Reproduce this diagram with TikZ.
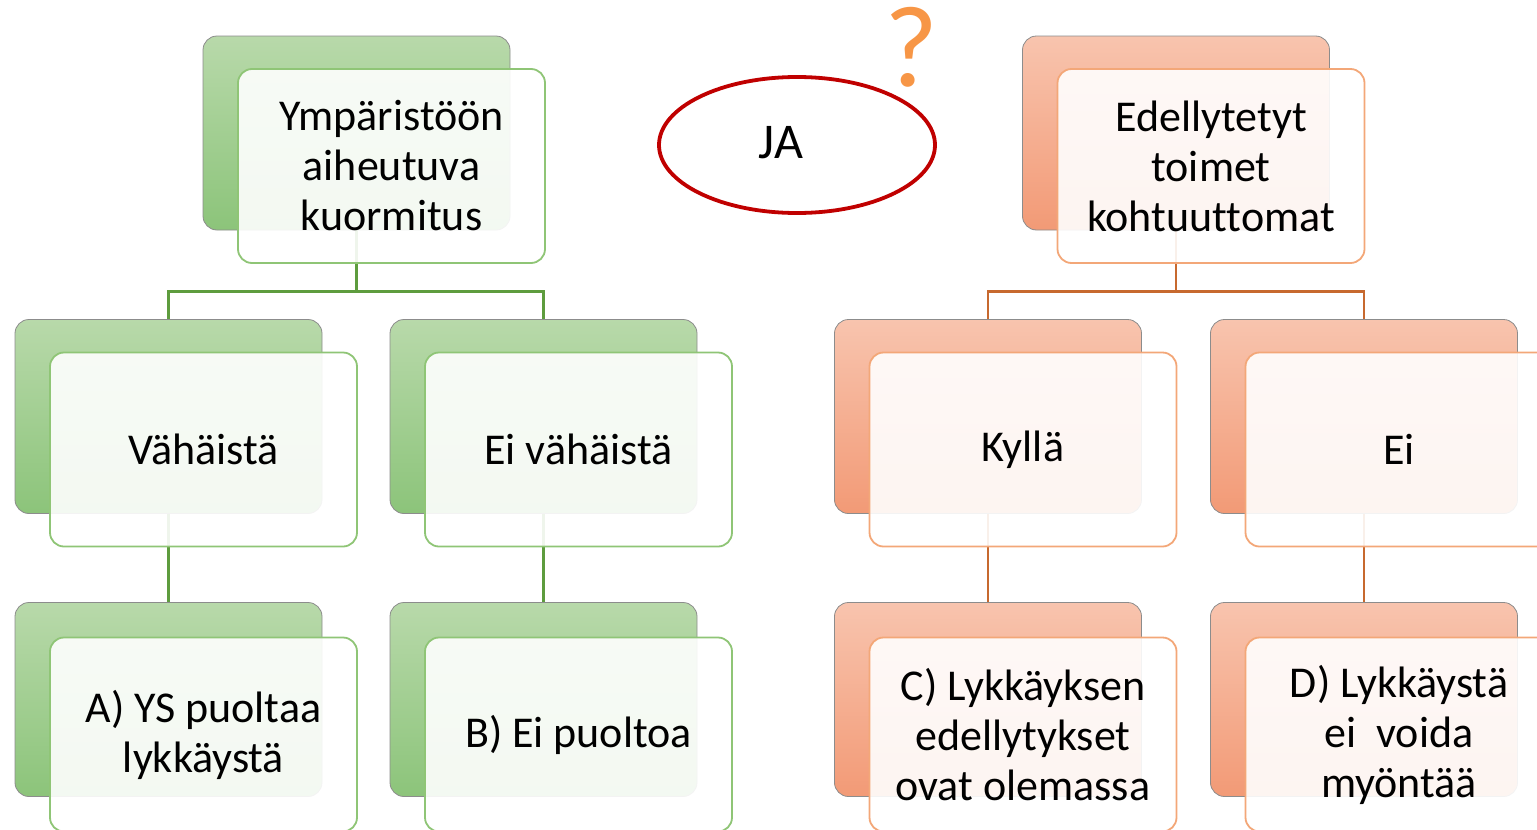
\documentclass[tikz,border=0pt]{standalone}
\usepackage{fontspec}
\setmainfont{Carlito}[Ligatures=NoCommon]
\usetikzlibrary{shapes.geometric,calc}
\definecolor{gtop}{HTML}{B8D9AA}
\definecolor{gbot}{HTML}{8CC47A}
\definecolor{gborder}{HTML}{8FC576}
\definecolor{gline}{HTML}{5E9C3E}
\definecolor{otop}{HTML}{F8C4AE}
\definecolor{obot}{HTML}{F29A76}
\definecolor{oborder}{HTML}{F3A778}
\definecolor{oline}{HTML}{C7692F}
\definecolor{jared}{HTML}{C00000}
\definecolor{qorange}{HTML}{F79646}
\tikzset{
  backbox/.style={rectangle, rounded corners=14pt, minimum width=307pt, minimum height=194pt,
    inner sep=0pt, line width=0.8pt, draw=black!45},
  gback/.style={backbox, top color=gtop, bottom color=gbot},
  oback/.style={backbox, top color=otop, bottom color=obot},
  frontbox/.style={rectangle, rounded corners=14pt, minimum width=307pt, minimum height=194pt,
    inner sep=0pt, fill=white, fill opacity=0.9, text opacity=1, line width=1.8pt,
    align=center, font=\fontsize{44}{50}\selectfont},
  gfront/.style={frontbox, draw=gborder},
  ofront/.style={frontbox, draw=oborder},
  gconn/.style={draw=gline, line width=2.4pt},
  oconn/.style={draw=oline, line width=2.4pt},
}
\begin{document}
\begin{tikzpicture}[x=1pt,y=-1pt]
\useasboundingbox (0,0) rectangle (1537,830);
\clip (0,0) rectangle (1537,830);
% back boxes
\path (356.5,133) node[gback] (t1b) {};
\path (168.5,416.5) node[gback] (m1b) {};
\path (543.5,416.5) node[gback] (m2b) {};
\path (168.5,699.5) node[gback] (b1b) {};
\path (543.5,699.5) node[gback] (b2b) {};
\path (1176,133) node[oback] (t2b) {};
\path (988,416.5) node[oback] (m3b) {};
\path (1364,416.5) node[oback] (m4b) {};
\path (988,699.5) node[oback] (b3b) {};
\path (1364,699.5) node[oback] (b4b) {};
% connectors (under front boxes)
\draw[gconn] (t1b.south) -- ++(0,61) coordinate (gj) -| (m1b.north);
\draw[gconn] (gj) -| (m2b.north);
\draw[gconn] (m1b.south) -- (b1b.north);
\draw[gconn] (m2b.south) -- (b2b.north);
\draw[oconn] (t2b.south) -- ++(0,61) coordinate (oj) -| (m3b.north);
\draw[oconn] (oj) -| (m4b.north);
\draw[oconn] (m3b.south) -- (b3b.north);
\draw[oconn] (m4b.south) -- (b4b.north);
% front boxes
\node[gfront] (t1f) at ($(t1b.center)+(35,33)$) {Ympäristöön\\aiheutuva\\kuormitus};
\node[gfront] (m1f) at ($(m1b.center)+(35,33)$) {Vähäistä};
\node[gfront] (m2f) at ($(m2b.center)+(35,33)$) {Ei vähäistä};
\node[gfront] (b1f) at ($(b1b.center)+(35,35)$) {\raisebox{0pt}{}A) YS puoltaa\\lykkäystä};
\node[gfront] (b2f) at ($(b2b.center)+(35,35)$) {B) Ei puoltoa};
\node[ofront] (t2f) at ($(t2b.center)+(35,33)$) {Edellytetyt\\toimet\\kohtuuttomat};
\node[ofront] (m3f) at ($(m3b.center)+(35,33)$) {Kyllä};
\node[ofront] (m4f) at ($(m4b.center)+(35,33)$) {Ei};
\node[ofront] (b3f) at ($(b3b.center)+(35,35)$) {C) Lykkäyksen\\edellytykset\\ovat olemassa};
\node[ofront] (b4f) at ($(b4b.center)+(35,35)$) {D) Lykkäystä\\ei\ \ voida\\myöntää};
% JA ellipse
\node[ellipse, draw=jared, line width=3.8pt, minimum width=276pt, minimum height=136pt, inner sep=0pt] (ja) at (797,145) {};
\node[font=\fontsize{50}{60}\selectfont, inner sep=0pt] (jat) at ($(ja.center)+(-16,-2)$) {JA};
\node[font=\fontsize{116}{120}\selectfont, text=qorange, inner sep=0pt] (q) at (911,47) {?};
\end{tikzpicture}
\end{document}
